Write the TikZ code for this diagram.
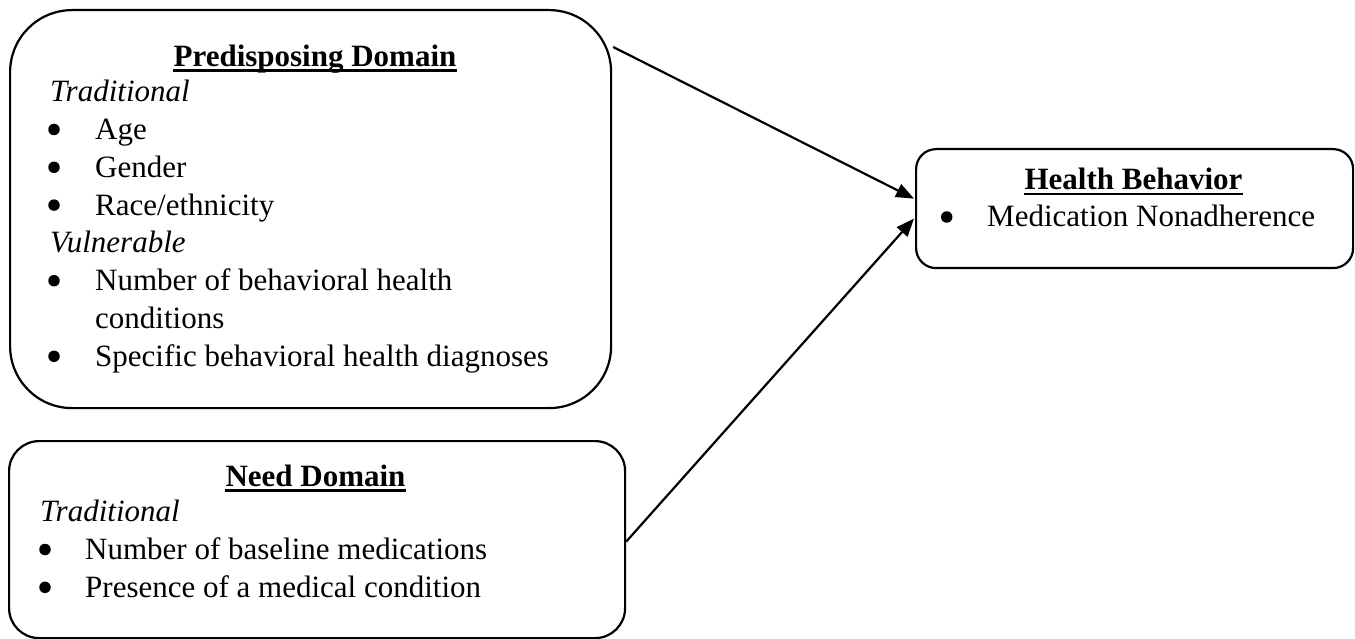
\documentclass[tikz,border=0pt]{standalone}
\usepackage{fontspec}
\setmainfont{Liberation Serif}
\usetikzlibrary{calc,arrows.meta}
\begin{document}
\begin{tikzpicture}[x=1pt,y=-1pt,
  box/.style={draw,line width=2.2pt,inner sep=0pt,anchor=north west},
  txt/.style={inner sep=0pt,anchor=base west,font=\fontsize{31}{37.8}\selectfont},
  itxt/.style={txt,font=\fontsize{31}{37.8}\selectfont\itshape},
  ttl/.style={inner sep=0pt,anchor=base,font=\fontsize{31}{37.8}\selectfont\bfseries},
  bul/.style={circle,fill,inner sep=0pt,minimum size=11.5pt},
  uline/.style={line width=2.5pt},
  arr/.style={line width=2.2pt,-{Triangle[length=18pt,width=14pt]}}]
\useasboundingbox (0,0) rectangle (1355,639);
% boxes
\node[box,rounded corners=62pt,minimum width=601pt,minimum height=398pt] (pre) at (9,9) {};
\node[box,rounded corners=30pt,minimum width=616pt,minimum height=197pt] (need) at (8,440) {};
\node[box,rounded corners=20pt,minimum width=437pt,minimum height=119pt] (hb) at (915,148) {};
% predisposing
\node[ttl] (t1) at (315,66.5) {Predisposing Domain};
\draw[uline] ($(t1.base west)+(0,4)$) -- ($(t1.base east)+(0,4)$);
\node[itxt] (p1) at (50,101.7) {Traditional};
\node[bul] (pb2) at (54,129.5) {};
\node[txt] (p2) at (95,139.5) {Age};
\node[bul] (pb3) at (54,167.3) {};
\node[txt] (p3) at (95,177.3) {Gender};
\node[bul] (pb4) at (54,205.1) {};
\node[txt] (p4) at (95,215.1) {Race/ethnicity};
\node[itxt] (p5) at (50,252.9) {Vulnerable};
\node[bul] (pb6) at (54,280.7) {};
\node[txt] (p6) at (95,290.7) {Number of behavioral health};
\node[txt] (p7) at (95,328.5) {conditions};
\node[bul] (pb8) at (54,356.3) {};
\node[txt] (p8) at (95,366.3) {Specific behavioral health diagnoses};
% need
\node[ttl] (t2) at (315.5,486.7) {Need Domain};
\draw[uline] ($(t2.base west)+(0,4)$) -- ($(t2.base east)+(0,4)$);
\node[itxt] (n1) at (40,521.7) {Traditional};
\node[bul] (nb2) at (45,549.5) {};
\node[txt] (n2) at (85,559.5) {Number of baseline medications};
\node[bul] (nb3) at (45,587.3) {};
\node[txt] (n3) at (85,597.3) {Presence of a medical condition};
% health behavior
\node[ttl] (t3) at (1133.5,190) {Health Behavior};
\draw[uline] ($(t3.base west)+(0,4)$) -- ($(t3.base east)+(0,4)$);
\node[bul] (hb1) at (946.7,217) {};
\node[txt] (h1) at (987,227) {Medication Nonadherence};
% arrows
\draw[arr] ($(pre.north east)+(1,38)$) -- ($(hb.west)+(-1,-10)$);
\draw[arr] ($(need.east)+(0,2)$) -- ($(hb.west)+(-1,10)$);
\end{tikzpicture}
\end{document}
